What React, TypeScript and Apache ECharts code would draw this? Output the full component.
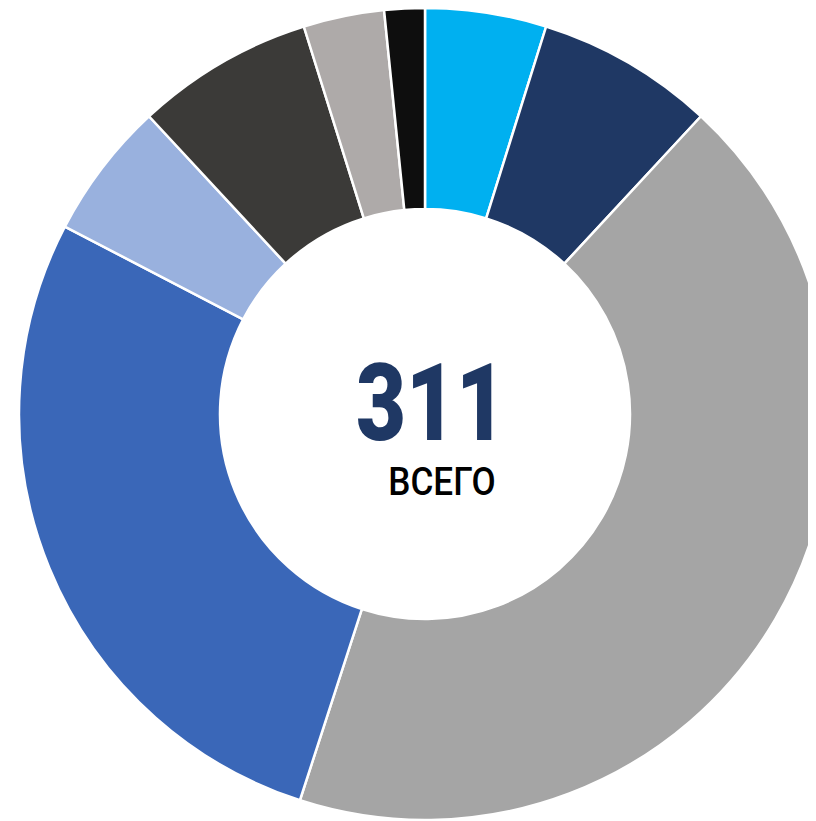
import React, { useEffect, useRef } from "react";
import * as echarts from "echarts";

const categories = ["A", "B", "C", "D", "E", "F", "G", "H"];
const values = [15, 22, 134, 86, 17, 22, 10, 5];
const colors = ["#00B0F0", "#1F3864", "#A5A5A5", "#3A67B8", "#99B1DE", "#3B3A38", "#AEAAA9", "#0E0E0E"];
const totalLabel = "311";
const subLabel = "ВСЕГО";

export default function App() {
  const ref = useRef<HTMLDivElement>(null);
  useEffect(() => {
    if (!ref.current) return;
    const chart = echarts.init(ref.current, null, { renderer: "svg" });
    chart.setOption({
      animation: false,
      backgroundColor: "#ffffff",
      graphic: [
        {
          type: "text",
          x: 431 - 8,
          y: 403 - 8,
          scaleX: 0.8,
          style: {
            text: totalLabel,
            fill: "#1F3864",
            font: "900 108px Roboto",
            textAlign: "center",
            textVerticalAlign: "middle",
          },
          z: 10,
        },
        {
          type: "text",
          x: 442 - 8,
          y: 482 - 8,
          scaleX: 0.9,
          style: {
            text: subLabel,
            fill: "#000000",
            font: "500 39px Roboto",
            textAlign: "center",
            textVerticalAlign: "middle",
          },
          z: 10,
        },
      ],
      series: [
        {
          type: "pie",
          center: [425 - 8, 414 - 8],
          radius: [205, 406],
          startAngle: 90,
          clockwise: true,
          label: { show: false },
          labelLine: { show: false },
          emphasis: { disabled: true },
          itemStyle: { borderColor: "#ffffff", borderWidth: 2.5 },
          data: categories.map((c, i) => ({
            name: c,
            value: values[i],
            itemStyle: { color: colors[i] },
          })),
        },
      ],
    });
    return () => chart.dispose();
  }, []);
  return <div ref={ref} style={{ width: 808, height: 813 }} />;
}
